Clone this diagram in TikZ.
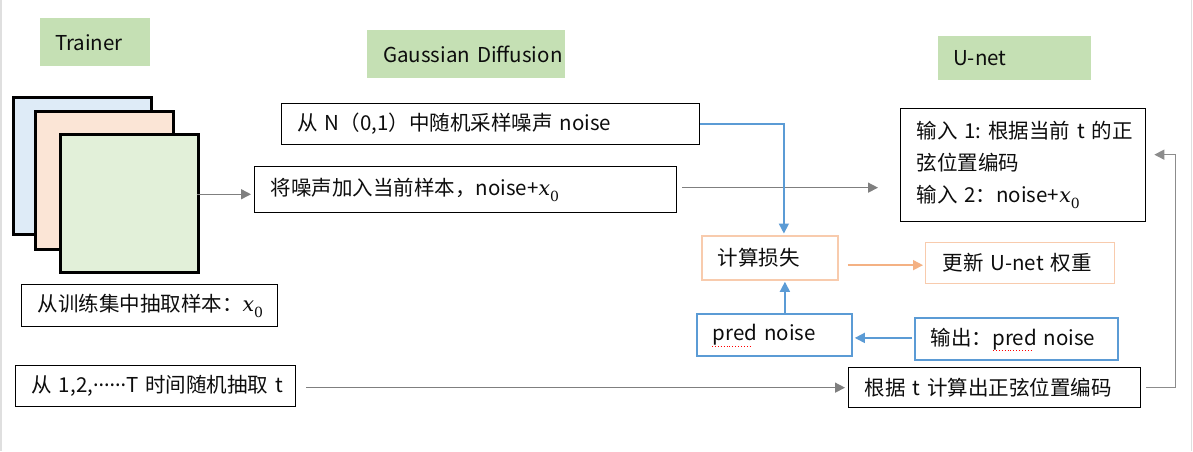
\documentclass[tikz,border=0pt]{standalone}
\usepackage{fontspec}
\setmainfont{Noto Sans CJK SC}
\newfontfamily\latfont{Noto Sans}
\newfontfamily\dvserif{DejaVu Serif}
\usetikzlibrary{arrows.meta,calc}
\definecolor{lgreen}{HTML}{C5E0B4}
\definecolor{sqblue}{HTML}{DEEBF7}
\definecolor{sqorange}{HTML}{FBE5D6}
\definecolor{sqgreen}{HTML}{E2F0D9}
\definecolor{oline}{HTML}{F8CBAD}
\definecolor{oarr}{HTML}{F4B183}
\definecolor{bline}{HTML}{5B9BD5}
\definecolor{garr}{HTML}{7F7F7F}
\definecolor{garrlight}{HTML}{8C8C8C}
\definecolor{txt}{HTML}{0D0D0D}
\hyphenpenalty=10000
\exhyphenpenalty=10000
\newcommand\xzero{{\dvserif\itshape x}\raisebox{-0.28em}{\fontsize{14}{14}\selectfont\dvserif 0}}
\newcommand\nodefont{\fontsize{20.5}{32}\selectfont}
\begin{document}
\begin{tikzpicture}[x=1pt,y=-1pt,
  every node/.style={font=\nodefont, text=txt},
  lab/.style={fill=lgreen, inner xsep=15pt, inner ysep=0pt, anchor=north west, align=left},
  box/.style={draw=black, line width=1.3pt, inner xsep=16pt, inner ysep=0pt, anchor=north west, align=left},
  obox/.style={box, draw=oline, line width=1.8pt},
  bbox/.style={box, draw=bline, line width=1.8pt},
  sq/.style={draw=black, line width=2.5pt, inner sep=0pt, anchor=north west},
  garrow/.style={draw=garr, line width=1.4pt, -{Triangle[length=10pt,width=10pt]}},
  larrow/.style={draw=garrlight, line width=1.4pt, -{Triangle[length=10pt,width=10pt]}},
  barrow/.style={draw=bline, line width=1.6pt, -{Triangle[length=10pt,width=10pt]}},
  oarrow/.style={draw=oarr, line width=1.6pt, -{Triangle[length=10pt,width=10pt]}}
]
\useasboundingbox (0,0) rectangle (1193,451);
\fill[white] (0,0) rectangle (1193,451);
\draw[gray!25, line width=1.5pt] (1,0) -- (1,451);
\draw[gray!25, line width=1.5pt] (1191.5,0) -- (1191.5,451);

% header labels
\node[lab, text width=80pt, minimum height=48pt] (trainer) at (40,18) {Trainer};
\node[lab, text width=166pt, minimum height=48pt, inner xsep=16pt] (gd) at (367,30) {Gaussian~Diffusion};
\node[lab, text width=123pt, minimum height=44pt] (unet) at (938,36) {U-net};

% stacked samples
\node[sq, fill=sqblue, minimum width=138pt, minimum height=137pt] (sqa) at (12,96) {};
\node[sq, fill=sqorange, minimum width=138pt, minimum height=138pt] (sqb) at (34,110) {};
\node[sq, fill=sqgreen, minimum width=138pt, minimum height=138pt] (sqc) at (59,133) {};

% boxes
\node[box, text width=224pt, minimum height=42pt] (sample) at (21,284) {从训练集中抽取样本：\xzero};
\node[box, text width=248pt, minimum height=41pt] (tpick) at (15,365) {从~1,2,{\latfont ······}T~时间随机抽取~t};
\node[box, text width=386pt, minimum height=41pt] (nsample) at (281,103) {从~N（0,1）中随机采样噪声~noise};
\node[box, text width=390pt, minimum height=46pt] (addn) at (254,166) {将噪声加入当前样本，noise+\xzero};
\node[box, text width=213pt, minimum height=113pt] (uin) at (900,108) {输入~1:~根据当前~t~的正\\弦位置编码\\输入~2：noise+\xzero};
\node[obox, text width=104pt, minimum height=44pt] (loss) at (701,235) {计算损失};
\node[obox, line width=1.3pt, inner xsep=17pt, text width=155pt, minimum height=41pt] (upd) at (925,242) {更新~U-net~权重};
\node[bbox, text width=123pt, minimum height=42pt] (pred) at (696,313) {pred~noise};
\node[bbox, text width=171pt, minimum height=42pt] (outp) at (914,317) {输出：pred~noise};
\node[box, text width=260pt, minimum height=40pt] (sinb) at (848,367) {根据~t~计算出正弦位置编码};

% spell-check underlines
\draw[red, dotted, line width=0.9pt] ($(pred.west)+(16,12)$) -- ++(40,0);
\draw[red, dotted, line width=0.9pt] ($(outp.west)+(79,12)$) -- ++(40,0);

% connectors
\coordinate (a1) at ($(sqc.east)+(-3,-9)$);
\draw[garrow, shorten >=3pt] (a1) -- (a1 -| addn.west);

\coordinate (a2) at ($(addn.east)+(5,-2)$);
\coordinate (uinarr) at ($(addn.east -| uin.west)+(-22,-2)$);
\draw[garrow] (a2) -- (uinarr);

\coordinate (lossin) at ($(loss.north)+(14,0)$);
\draw[barrow, shorten >=1.5pt] (nsample.east) -| (lossin);

\coordinate (o1) at ($(upd.west -| loss.east)+(9,2)$);
\draw[oarrow, shorten >=2pt] (o1) -- (o1 -| upd.west);

\coordinate (p1) at ($(pred.north)+(10.5,0)$);
\draw[barrow, shorten >=1pt] (p1) -- (p1 |- loss.south);

\draw[barrow, shorten >=2pt] ($(outp.west)+(-2,-1)$) -- ($(outp.west -| pred.east)+(0,-1)$);

\coordinate (t1) at ($(sinb.west -| tpick.east)+(10,0)$);
\draw[garrow, shorten >=3pt] (t1) -- (sinb.west);

\coordinate (c1) at ($(sinb.east)+(34,0)$);
\coordinate (c2) at ($(uin.east)+(8,-10.5)$);
\draw[larrow] ($(sinb.east)+(5,0)$) -- (c1) |- (c2);
\end{tikzpicture}
\end{document}
